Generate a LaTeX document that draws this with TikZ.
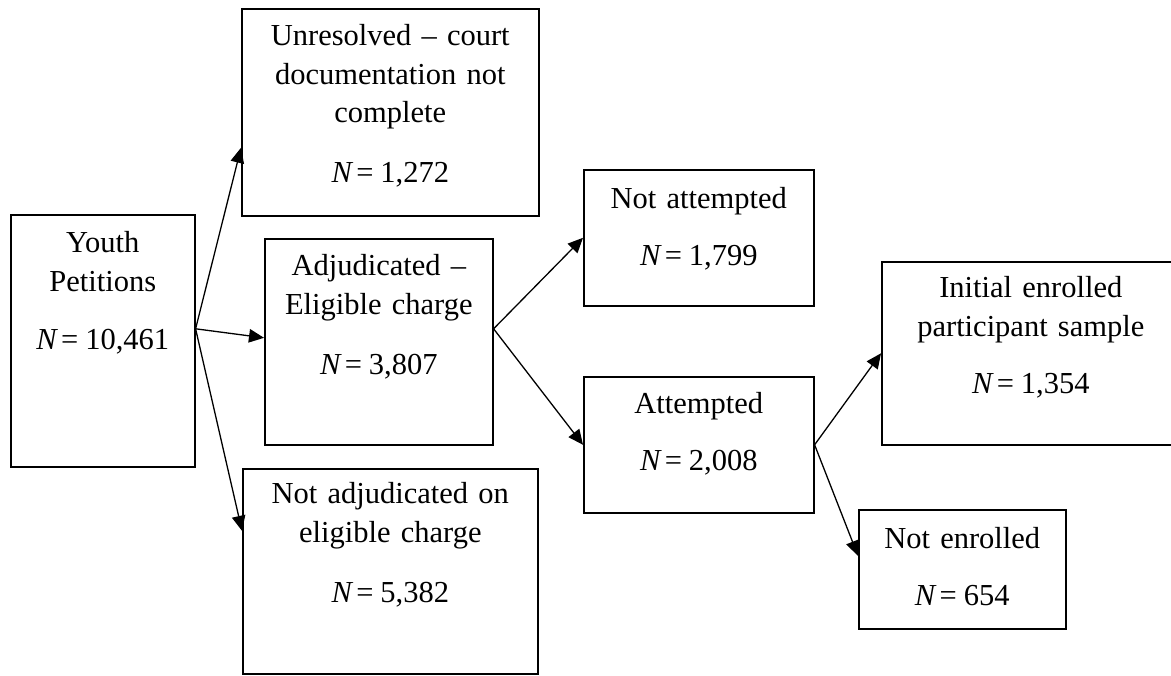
\documentclass[tikz,border=0pt]{standalone}
\usepackage{fontspec}
\setmainfont{Liberation Serif}
\usetikzlibrary{arrows.meta}
\newcommand{\nval}[1]{\textit{N}\kern3pt=\kern7pt#1}
\tikzset{
  stage/.style={draw, line width=1.6pt, inner sep=0pt, align=center, anchor=north west,
    font=\fontsize{30.5}{38.5}\selectfont},
  flow/.style={-{Triangle[length=15pt,width=13.5pt]}, line width=1.3pt},
}
\begin{document}
\begin{tikzpicture}[x=1pt,y=-1pt]
\useasboundingbox (0,0) rectangle (1171,676);
% boxes, placed by their top left corners
\node[stage, text width=184pt, text height=38pt, text depth=214pt] (youth) at (10,214)
  {Youth\\Petitions\\[20pt]\nval{10,461}};
\node[stage, text width=297pt, text height=37pt, text depth=170pt] (unres) at (241,8)
  {Unresolved -- court\\documentation not\\complete\\[21.5pt]\nval{1,272}};
\node[stage, text width=228pt, text height=37pt, text depth=169pt] (adj) at (264,238)
  {Adjudicated --\\Eligible charge\\[21.5pt]\nval{3,807}};
\node[stage, text width=295pt, text height=35pt, text depth=170pt] (notadj) at (242,468)
  {Not adjudicated on\\eligible charge\\[21.5pt]\nval{5,382}};
\node[stage, text width=230pt, text height=39pt, text depth=97pt] (notatt) at (583,169)
  {Not attempted\\[18.5pt]\nval{1,799}};
\node[stage, text width=230pt, text height=37pt, text depth=99pt] (att) at (583,376)
  {Attempted\\[18.5pt]\nval{2,008}};
\node[stage, text width=298pt, text height=36pt, text depth=147pt] (init) at (881,261)
  {Initial enrolled\\participant sample\\[18.5pt]\nval{1,354}};
\node[stage, text width=207pt, text height=39pt, text depth=80pt] (notenr) at (858,509)
  {Not enrolled\\[18.5pt]\nval{654}};
% fan points
\coordinate (yfan) at ([yshift=12pt]youth.east);
\coordinate (afan) at ([yshift=13pt]adj.east);
\coordinate (tfan) at (att.east);
% arrows
\draw[flow] (yfan) -- ([yshift=-35.5pt]unres.west);
\draw[flow] (yfan) -- ([yshift=4pt]adj.west);
\draw[flow] (yfan) -- ([yshift=40.5pt]notadj.west);
\draw[flow] (afan) -- (notatt.west);
\draw[flow] (afan) -- (att.west);
\draw[flow] (tfan) -- (init.west);
\draw[flow] (tfan) -- ([yshift=13.5pt]notenr.west);
\end{tikzpicture}
\end{document}
